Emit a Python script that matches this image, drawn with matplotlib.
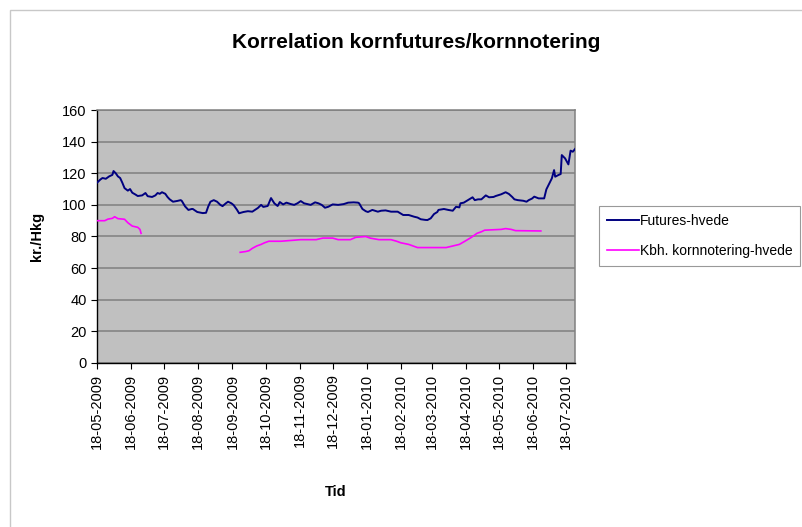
import pandas as pd
import matplotlib
matplotlib.use('Agg')
import matplotlib.pyplot as plt
import matplotlib.dates as mdates
from matplotlib.patches import Rectangle

plt.rcParams['font.family'] = ['Liberation Sans', 'DejaVu Sans']

# ==========================================
# Data
# ==========================================
futures_dates = [
    '2009-05-18', '2009-05-21', '2009-05-23', '2009-05-26', '2009-05-29', '2009-06-01',
    '2009-06-02', '2009-06-04', '2009-06-06', '2009-06-08', '2009-06-10', '2009-06-12',
    '2009-06-15', '2009-06-17', '2009-06-19', '2009-06-22', '2009-06-24', '2009-06-28',
    '2009-07-01', '2009-07-03', '2009-07-07', '2009-07-10', '2009-07-12', '2009-07-14',
    '2009-07-16', '2009-07-19', '2009-07-21', '2009-07-23', '2009-07-26', '2009-07-30',
    '2009-08-02', '2009-08-03', '2009-08-06', '2009-08-09', '2009-08-12', '2009-08-13',
    '2009-08-17', '2009-08-22', '2009-08-25', '2009-08-27', '2009-08-29', '2009-09-01',
    '2009-09-04', '2009-09-07', '2009-09-09', '2009-09-12', '2009-09-14', '2009-09-17',
    '2009-09-19', '2009-09-22', '2009-09-24', '2009-09-28', '2009-10-02', '2009-10-06',
    '2009-10-11', '2009-10-14', '2009-10-16', '2009-10-20', '2009-10-23', '2009-10-26',
    '2009-10-29', '2009-10-31', '2009-11-03', '2009-11-06', '2009-11-10', '2009-11-13',
    '2009-11-16', '2009-11-19', '2009-11-22', '2009-11-25', '2009-11-28', '2009-12-02',
    '2009-12-05', '2009-12-08', '2009-12-11', '2009-12-14', '2009-12-18', '2009-12-23',
    '2009-12-28', '2010-01-01', '2010-01-06', '2010-01-10', '2010-01-11', '2010-01-14',
    '2010-01-17', '2010-01-19', '2010-01-23', '2010-01-28', '2010-01-31', '2010-02-04',
    '2010-02-09', '2010-02-15', '2010-02-20', '2010-02-25', '2010-03-02', '2010-03-05',
    '2010-03-08', '2010-03-12', '2010-03-14', '2010-03-17', '2010-03-20', '2010-03-23',
    '2010-03-24', '2010-03-29', '2010-04-02', '2010-04-06', '2010-04-09', '2010-04-12',
    '2010-04-13', '2010-04-16', '2010-04-21', '2010-04-24', '2010-04-26', '2010-04-29',
    '2010-05-02', '2010-05-06', '2010-05-09', '2010-05-13', '2010-05-15', '2010-05-20',
    '2010-05-24', '2010-05-27', '2010-05-30', '2010-06-01', '2010-06-04', '2010-06-09',
    '2010-06-12', '2010-06-14', '2010-06-17', '2010-06-19', '2010-06-23', '2010-06-28',
    '2010-06-30', '2010-07-02', '2010-07-05', '2010-07-07', '2010-07-08', '2010-07-11',
    '2010-07-13', '2010-07-14', '2010-07-17', '2010-07-20', '2010-07-22', '2010-07-24',
    '2010-07-26',
]
futures_hvede = [
    114, 116, 117, 116.5, 118, 119,
    121.4, 120, 118, 117, 114, 110.6,
    109, 110, 107.7, 106.5, 105.6, 106,
    107.5, 105.5, 105, 106, 107.5, 107,
    108, 107, 105, 103.5, 102, 102.5,
    103, 102.5, 99, 96.8, 97.4, 97.4,
    95.5, 94.8, 95, 99, 102, 103,
    102, 100, 99.2, 101, 102, 101,
    99.9, 97, 94.7, 95.5, 96, 95.7,
    98, 100, 98.7, 99.3, 104.3, 101,
    99.3, 101.8, 100.3, 101.4, 100.5, 100,
    101, 102.4, 101, 100.5, 100, 101.6,
    101, 100, 98.2, 98.8, 100.3, 100,
    100.5, 101.4, 101.6, 101.4, 101, 97.4,
    96, 95.5, 96.8, 95.7, 96.3, 96.5,
    95.7, 95.7, 93.6, 93.6, 92.5, 92,
    90.9, 90.5, 90.4, 91.5, 94.2, 95.5,
    96.8, 97.4, 96.8, 96.3, 98.8, 98.4,
    101, 101.4, 103.5, 104.8, 103, 103.5,
    103.5, 106, 104.8, 105, 105.6, 106.7,
    108, 106.9, 105, 103.5, 103, 102.6,
    102, 103, 104, 105.2, 104.1, 104.1,
    109.8, 112.6, 116.8, 122, 117.8, 118.9,
    119.5, 131.5, 129.4, 125.6, 134.3, 133.6,
    135.3,
]

# Kbh. kornnotering has a gap between end of June and end of September 2009
kbh_dates_1 = [
    '2009-05-18', '2009-05-25', '2009-05-28', '2009-06-01', '2009-06-03', '2009-06-06',
    '2009-06-12', '2009-06-15', '2009-06-19', '2009-06-24', '2009-06-26', '2009-06-27',
]
kbh_values_1 = [90, 90, 91, 91.5, 92.5, 91.3, 90.9, 88.7, 86.6, 85.8, 84.5, 82]

kbh_dates_2 = [
    '2009-09-25', '2009-09-30', '2009-10-03', '2009-10-06', '2009-10-10', '2009-10-14',
    '2009-10-17', '2009-10-21', '2009-11-01', '2009-11-10', '2009-11-19', '2009-12-03',
    '2009-12-09', '2009-12-18', '2009-12-23', '2010-01-03', '2010-01-08', '2010-01-17',
    '2010-01-21', '2010-01-29', '2010-02-09', '2010-02-14', '2010-02-18', '2010-02-25',
    '2010-03-01', '2010-03-05', '2010-03-31', '2010-04-06', '2010-04-12', '2010-04-17',
    '2010-04-23', '2010-04-28', '2010-05-02', '2010-05-05', '2010-05-20', '2010-05-24',
    '2010-05-29', '2010-06-02', '2010-06-25',
]
kbh_values_2 = [
    70, 70.5, 71, 72.5, 74, 75,
    76, 77, 77, 77.5, 78, 78,
    79, 79, 78, 78, 79.5, 80,
    79, 78, 78, 77, 76, 75,
    74, 73, 73, 74, 75, 77,
    79.5, 82, 83, 84, 84.5, 85,
    84.5, 83.7, 83.5,
]

futures = pd.Series(futures_hvede, index=pd.to_datetime(futures_dates))
kbh1 = pd.Series(kbh_values_1, index=pd.to_datetime(kbh_dates_1))
kbh2 = pd.Series(kbh_values_2, index=pd.to_datetime(kbh_dates_2))

# ==========================================
# Figure
# ==========================================
fig = plt.figure(figsize=(8.02, 5.27), dpi=100)
fig.patch.set_facecolor('white')
fig.patches.append(Rectangle((10 / 802, -0.02), 1.05, 1 - 10 / 527 + 0.02,
                             transform=fig.transFigure, fill=False,
                             edgecolor='#c8c8c8', linewidth=1.0))

ax = fig.add_axes([97 / 802, 1 - 363 / 527, (575 - 97) / 802, (363 - 110) / 527])
ax.set_facecolor('#c0c0c0')

ax.plot(futures.index, futures.values, color='#000080', linewidth=1.4,
        label='Futures-hvede', zorder=3)
ax.plot(kbh1.index, kbh1.values, color='#ff00ff', linewidth=1.2,
        label='Kbh. kornnotering-hvede', zorder=3)
ax.plot(kbh2.index, kbh2.values, color='#ff00ff', linewidth=1.2, zorder=3)

ax.set_ylim(0, 160)
ax.set_yticks(range(0, 161, 20))
ax.set_xlim(pd.Timestamp('2009-05-18'), pd.Timestamp('2010-07-26'))
ax.xaxis.set_major_locator(mdates.MonthLocator(bymonthday=18))
ax.xaxis.set_major_formatter(mdates.DateFormatter('%d-%m-%Y'))
plt.setp(ax.get_xticklabels(), rotation=90)

ax.grid(axis='y', color='#808080', linewidth=1.1, zorder=1)
ax.set_axisbelow(True)
ax.tick_params(labelsize=10.5, length=4, width=0.8, color='black')
for side in ['top', 'right']:
    ax.spines[side].set_color('#808080')
    ax.spines[side].set_linewidth(1.1)
for side in ['left', 'bottom']:
    ax.spines[side].set_color('black')
    ax.spines[side].set_linewidth(1.0)

fig.text(416 / 802, 1 - 43 / 527, 'Korrelation kornfutures/kornnotering',
         ha='center', va='center', fontsize=15, fontweight='bold')
fig.text(37 / 802, 1 - 236 / 527, 'kr./Hkg', rotation=90,
         ha='center', va='center', fontsize=10.5, fontweight='bold')
fig.text(336 / 802, 1 - 492 / 527, 'Tid',
         ha='center', va='center', fontsize=10.5, fontweight='bold')

leg = fig.legend(loc='upper left', bbox_to_anchor=(599 / 802, 1 - 206 / 527),
                 fontsize=10, frameon=True, fancybox=False, handlelength=2.3,
                 handletextpad=0.1, labelspacing=1.2, borderpad=0.55,
                 borderaxespad=0)
leg.get_frame().set_edgecolor('#808080')
leg.get_frame().set_linewidth(0.8)

plt.savefig('out.png', dpi=100)
